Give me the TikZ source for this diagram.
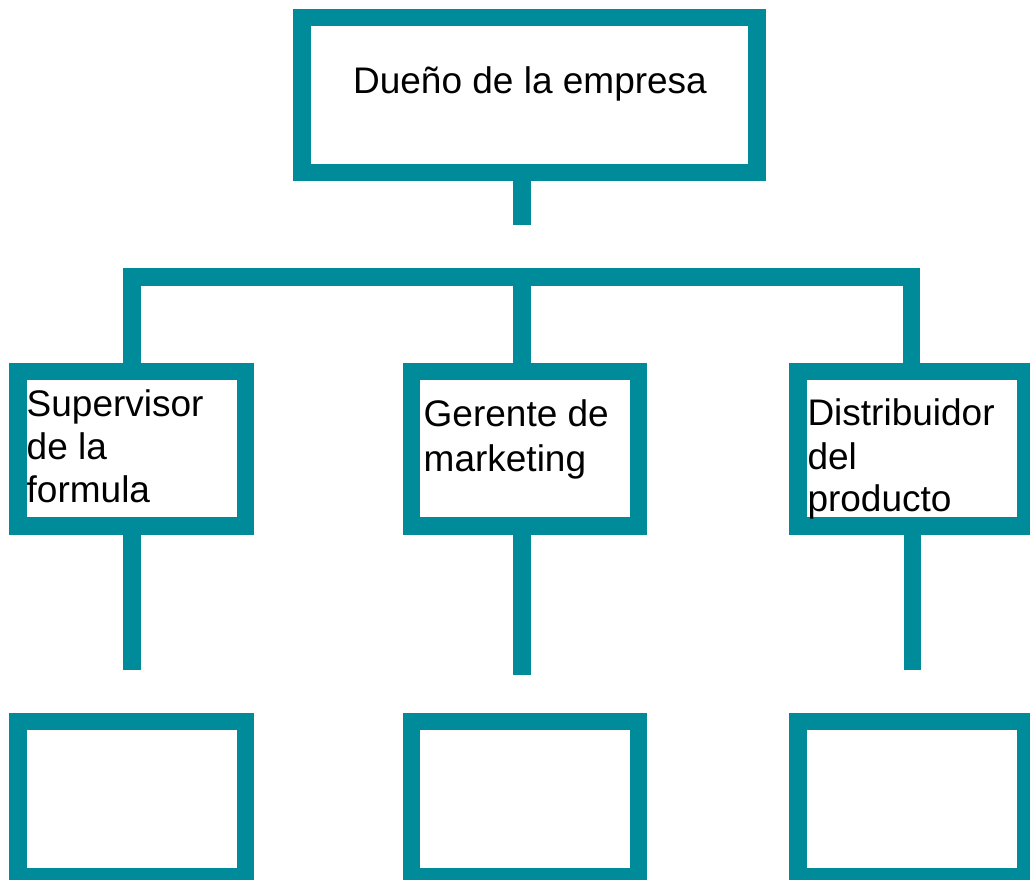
\documentclass[tikz,border=0pt]{standalone}
\usepackage{fontspec}
\setmainfont{Liberation Sans}
\definecolor{teal}{RGB}{0,139,154}
\begin{document}
\begin{tikzpicture}[x=1pt,y=-1pt,
  box/.style={draw=teal,line width=17.4pt,fill=white,rectangle,inner sep=0pt,
    minimum width=227.5pt,minimum height=154.6pt},
  conn/.style={draw=teal,line width=17.4pt,line cap=butt,line join=miter},
  lbl/.style={inner sep=0pt,font=\fontsize{37}{43}\selectfont,text=black}]
\useasboundingbox (0,0) rectangle (1030,879);
\fill[white] (0,0) rectangle (1030,879);
\clip (0,0) rectangle (1030,879);
% boxes
\node[box,minimum width=455pt] (top) at (529.5,95) {};
\node[box] (b1) at (131.8,448.8) {};
\node[box] (b2) at (525,448.8) {};
\node[box] (b3) at (911.7,448.8) {};
\node[box] (c1) at (131.8,799) {};
\node[box] (c2) at (525,799) {};
\node[box] (c3) at (911.7,799) {};
% coordinates
\coordinate (s0) at (522,225.3);
\coordinate (bar) at (522,277);
\coordinate (d1) at (132,669.7);
\coordinate (d2) at (522,675);
\coordinate (d3) at (912.2,669.7);
% connectors
\draw[conn] (s0 |- top.south) -- (s0);
\draw[conn] (b1.north) |- (bar) -| (b3.north);
\draw[conn] (bar) -- (bar |- b2.north);
\draw[conn] (d1 |- b1.south) -- (d1);
\draw[conn] (d2 |- b2.south) -- (d2);
\draw[conn] (d3 |- b3.south) -- (d3);
% labels
\node[lbl,anchor=base] (t0) at (530,93.3) {Dueño de la empresa};
\node[lbl,anchor=base west] (t1a) at (26.5,416.7) {Supervisor};
\node[lbl,anchor=base west] (t1b) at (26.5,459.5) {de la};
\node[lbl,anchor=base west] (t1c) at (26.5,502.8) {formula};
\node[lbl,anchor=base west] (t2a) at (423.5,426.7) {Gerente de};
\node[lbl,anchor=base west] (t2b) at (423.5,471.7) {marketing};
\node[lbl,anchor=base west] (t3a) at (807.3,425.7) {Distribuidor};
\node[lbl,anchor=base west] (t3b) at (807.3,469) {del};
\node[lbl,anchor=base west] (t3c) at (807.3,511.7) {producto};
\end{tikzpicture}
\end{document}
